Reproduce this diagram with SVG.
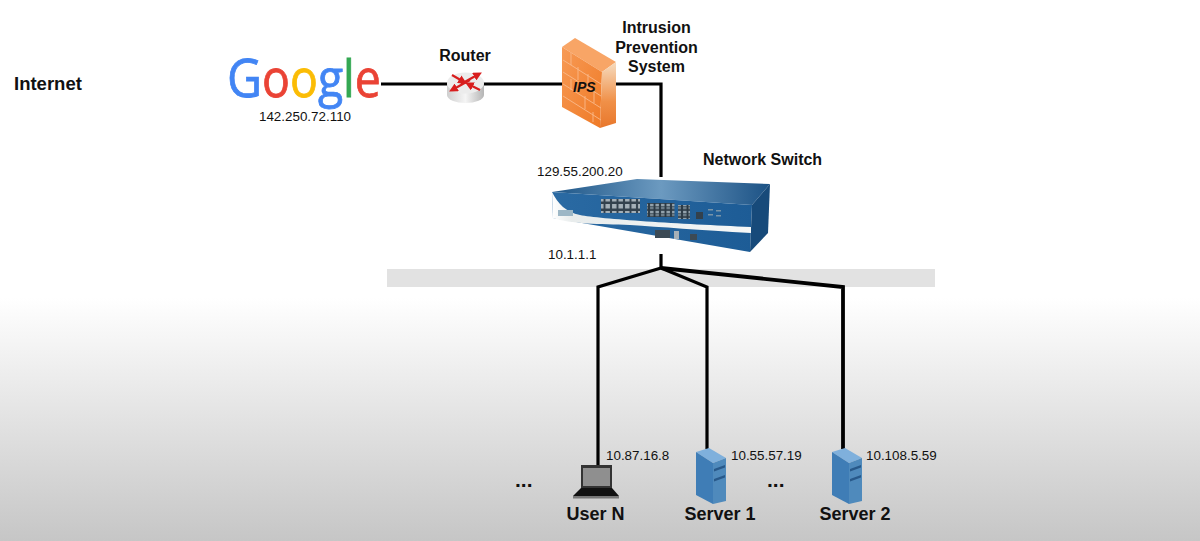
<svg xmlns="http://www.w3.org/2000/svg" width="1200" height="541" viewBox="0 0 1200 541">
<style>
text{font-family:"Liberation Sans",Arial,sans-serif;fill:#111}
.b{font-weight:bold;font-size:16px}
.s{font-size:13.4px}
.m{text-anchor:middle}
.d{font-weight:bold;font-size:21px}
.g{font-family:"Open Sans","Liberation Sans",sans-serif;font-size:51px;stroke-width:.8px}
.w{fill:none;stroke:#000;stroke-width:3.2}
.port{stroke:none}
</style>
<defs>
<linearGradient id="bg" x1="0" y1="0" x2="0" y2="1"><stop offset="0" stop-color="#fff"/><stop offset=".55" stop-color="#fff"/><stop offset="1" stop-color="#c6c6c6"/></linearGradient>
<linearGradient id="ipsF" x1="0" y1="0" x2="1" y2="1"><stop offset="0" stop-color="#f79a55"/><stop offset="1" stop-color="#ef7a26"/></linearGradient>
<linearGradient id="ipsS" x1="0" y1="0" x2="0" y2="1"><stop offset="0" stop-color="#f6dcc0"/><stop offset=".6" stop-color="#f09048"/><stop offset="1" stop-color="#e8772c"/></linearGradient>
<linearGradient id="rt" x1="0" y1="0" x2="1" y2="0"><stop offset="0" stop-color="#cfcfcf"/><stop offset=".5" stop-color="#f5f5f5"/><stop offset="1" stop-color="#b5b5b5"/></linearGradient>
<linearGradient id="swT" x1="0" y1="0" x2="1" y2="0"><stop offset="0" stop-color="#1d5587"/><stop offset=".5" stop-color="#6c9ac0"/><stop offset="1" stop-color="#1c5285"/></linearGradient>
<linearGradient id="swF" x1="0" y1="0" x2="1" y2="0"><stop offset="0" stop-color="#2a6aa3"/><stop offset="1" stop-color="#1d5c96"/></linearGradient>
<linearGradient id="swE" x1="0" y1="0" x2="1" y2="0"><stop offset="0" stop-color="#ffffff"/><stop offset=".1" stop-color="#e8ecec"/><stop offset="1" stop-color="#f5f7f7"/></linearGradient>
<pattern id="cells" width="6.500" height="7" patternUnits="userSpaceOnUse"><rect width="6.500" height="7" fill="#33414d"/><rect x="1" y="1" width="4.500" height="4.500" fill="#a5b0b8"/></pattern>
<pattern id="sfp" width="5.500" height="7" patternUnits="userSpaceOnUse"><rect width="5.500" height="7" fill="#2b3944"/><rect x="1" y=".8" width="3.500" height="2.500" fill="#94a3ad"/><rect x="1" y="3.800" width="3.500" height="2.500" fill="#6f7f8a"/></pattern>
<marker id="ah" markerWidth="4" markerHeight="4" refX="2.500" refY="2" orient="auto"><path d="M0 0L4 2L0 4z" fill="#d81e1e"/></marker>
<g id="srv">
<polygon points="1,5 14,1 31,11 18,16" fill="#7fb0dc"/>
<polygon points="1,5 18,16 18,57 1,48" fill="#3f7db6"/>
<polygon points="18,16 31,11 31,54 18,57" fill="#4f8abc"/>
<path d="M19 22L30 18V20.500L19 24.500zM19 32L30 28V30.500L19 34.500z" fill="#28598a"/>
</g>
</defs>
<rect id="background" width="1200" height="541" fill="url(#bg)"/>
<rect id="band" x="387" y="269" width="548" height="18" fill="#e2e2e2"/>

<g id="connectors">
<path class="w" d="M381 84H562"/>
<path class="w" d="M616 84H661V177"/>
<path class="w" d="M661 254V268"/>
<path class="w" d="M661 268L598 287V466"/>
<path class="w" d="M661 268L707 287V449"/>
<path class="w" style="stroke-width:3.800" d="M661 268L843 287V449"/>
</g>

<text id="internet" x="14" y="90" style="font-size:18.500px;font-weight:bold">Internet</text>

<g id="google">
<text class="g" transform="translate(227,97) scale(.91,1)"><tspan style="fill:#4285f4;stroke:#4285f4;font-size:53px">G</tspan><tspan style="fill:#ea4335;stroke:#ea4335">o</tspan><tspan style="fill:#fbbc05;stroke:#fbbc05">o</tspan><tspan style="fill:#4285f4;stroke:#4285f4">g</tspan><tspan style="fill:#34a853;stroke:#34a853">l</tspan><tspan style="fill:#ea4335;stroke:#ea4335">e</tspan></text>
<text class="s m" x="305" y="121">142.250.72.110</text>
</g>

<g id="router">
<path d="M447 83V95A18.500 8 0 0 0 484 95V83z" fill="url(#rt)"/>
<ellipse cx="465.500" cy="83" rx="18.500" ry="10.500" fill="#ececec"/>
<g stroke="#d81e1e" stroke-width="2.200" fill="none" marker-end="url(#ah)">
<path d="M452 75L464 82"/><path d="M480 90L468 84"/><path d="M461 84L479 74"/><path d="M470 80L452 90"/>
</g>
<text class="b m" x="465" y="61">Router</text>
</g>

<g id="ips">
<polygon points="562,47 575,38 616,62 602,72" fill="#f8a566"/>
<polygon points="562,47 602,72 600,128 562,107" fill="url(#ipsF)"/>
<polygon points="602,72 616,62 616,123 600,128" fill="url(#ipsS)"/>
<g stroke="#f9b98a" stroke-width=".9" fill="none">
<path d="M563 60L601 84M563 72L601 96M563 84L601 108M563 96L601 120"/>
<path d="M571 53V65M588 74V87M578 67V80M594 91V103M571 79V90M585 96V109M593 112V122"/>
</g>
<text x="573" y="92" style="font-size:14px;font-weight:bold;font-style:italic">IPS</text>
<text class="b m" x="656.500" y="33">Intrusion</text><text class="b m" x="656.500" y="52.500">Prevention</text><text class="b m" x="656.500" y="71.500">System</text>
</g>

<g id="switch">
<polygon points="552,192 637,179 770,184 752,205" fill="url(#swT)"/>
<polygon points="552,192 752,205 750,252 553,218" fill="url(#swF)"/>
<polygon points="752,205 770,184 768,233 750,252" fill="#174a7a"/>
<path d="M552 192C558 204 566 212 580 215C600 219 680 224 751 227V233C700 230 660 227 630 225C600 224 570 224 553 218z" fill="url(#swE)"/>
<rect x="558" y="210" width="15" height="6" fill="#9db7c6"/>
<rect class="port" x="601" y="199" width="39" height="14" fill="url(#cells)"/>
<rect class="port" x="647" y="203" width="27.500" height="14" fill="url(#sfp)"/>
<rect class="port" x="678" y="205" width="12" height="14" fill="url(#sfp)"/>
<rect class="port" x="696" y="212" width="7" height="7" fill="#33414d"/>
<g fill="#8fa2ae" opacity=".8"><rect x="708" y="209" width="5" height="1.500"/><rect x="708" y="214" width="5" height="1.500"/><rect x="716" y="210" width="5" height="1.500"/><rect x="716" y="215" width="5" height="1.500"/></g>
<rect class="port" x="655" y="230" width="15" height="8" fill="#3c4a55"/>
<rect class="port" x="674" y="231" width="5" height="8" fill="#a5b0b8"/>
<rect class="port" x="690" y="234" width="7" height="6" fill="#3c4a55"/>
<text class="s" x="537" y="176">129.55.200.20</text>
<text class="s" x="548" y="259">10.1.1.1</text>
<text class="b" x="703" y="165">Network Switch</text>
</g>

<g id="user-n">
<polygon points="581,465 612,465 612,489 581,489" fill="#333"/>
<rect x="583" y="468" width="27" height="18" fill="#8f8f8f"/>
<polygon points="581,488 612,488 619,496 573,496" fill="#111"/>
<rect x="573" y="496" width="46" height="2.500" fill="#777"/>
<text class="s" x="606" y="460">10.87.16.8</text>
<text class="d" x="515" y="487">...</text>
<text class="b m" x="595.500" y="520" style="font-size:18px">User N</text>
</g>

<g id="server-1">
<use href="#srv" x="695" y="447"/>
<text class="s" x="731" y="460">10.55.57.19</text>
<text class="d" x="767" y="487">...</text>
<text class="b m" x="720" y="520" style="font-size:18px">Server 1</text>
</g>

<g id="server-2">
<use href="#srv" x="831" y="447"/>
<text class="s" x="866" y="460">10.108.5.59</text>
<text class="b m" x="855" y="520" style="font-size:18px">Server 2</text>
</g>
</svg>
